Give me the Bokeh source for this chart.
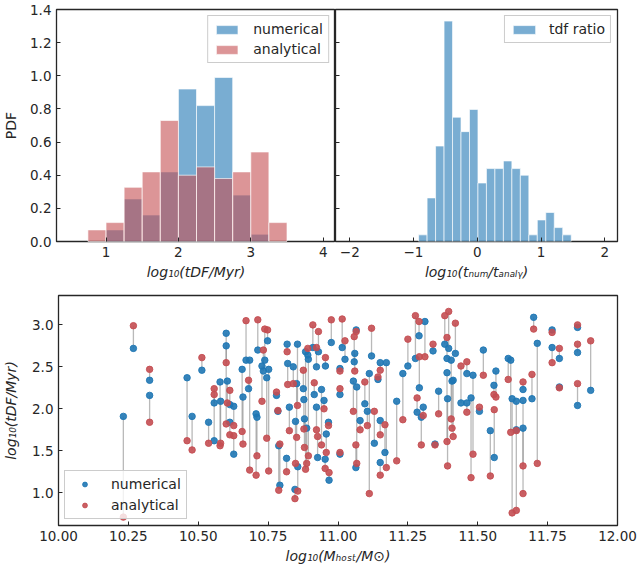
from bokeh.plotting import figure
from bokeh.layouts import column, row
from bokeh.models import (ColumnDataSource, Legend, LegendItem, FixedTicker,
                          Range1d, NumeralTickFormatter, CustomJSTickFormatter)
from bokeh.embed import file_html
from bokeh.resources import INLINE

# ---------------- data ----------------
tdf_edges = [0.75, 1.00, 1.25, 1.50, 1.75, 2.00, 2.25, 2.50, 2.75, 3.00, 3.25, 3.50]
tdf_num_pdf = [0.000, 0.070, 0.257, 0.160, 0.420, 0.920, 0.820, 0.990, 0.280, 0.044, 0.000]
tdf_ana_pdf = [0.070, 0.114, 0.327, 0.420, 0.730, 0.400, 0.450, 0.380, 0.420, 0.540, 0.114]

ratio_edges = [-0.920, -0.787, -0.654, -0.521, -0.388, -0.255, -0.122, 0.011, 0.144,
               0.277, 0.410, 0.543, 0.676, 0.809, 0.942, 1.075, 1.208, 1.341, 1.474]
ratio_pdf = [0.040, 0.263, 0.576, 1.330, 0.750, 0.663, 0.797, 0.353, 0.440,
             0.440, 0.486, 0.440, 0.400, 0.040, 0.130, 0.175, 0.084, 0.040]

host_mass = [10.232, 10.268, 10.326, 10.326, 10.460, 10.478, 10.513, 10.537, 10.557, 10.557,
             10.578, 10.580, 10.600, 10.600, 10.604, 10.613, 10.613, 10.627, 10.627, 10.657,
             10.660, 10.671, 10.680, 10.684, 10.707, 10.710, 10.713, 10.728, 10.733, 10.738,
             10.745, 10.748, 10.752, 10.780, 10.785, 10.788, 10.792, 10.818, 10.820, 10.826,
             10.816, 10.840, 10.855, 10.852, 10.848, 10.846, 10.856, 10.876, 10.878, 10.880,
             10.888, 10.884, 10.892, 10.894, 10.910, 10.915, 10.930, 10.923, 10.923, 10.927,
             10.941, 10.955, 10.950, 10.966, 10.958, 10.954, 10.968, 10.976, 11.007, 11.007,
             11.007, 11.015, 11.025, 11.058, 11.065, 11.055, 11.060, 11.067, 11.064, 11.079,
             11.096, 11.105, 11.112, 11.120, 11.130, 11.143, 11.151, 11.151, 11.151, 11.168,
             11.173, 11.210, 11.232, 11.250, 11.277, 11.290, 11.291, 11.283, 11.305, 11.298,
             11.311, 11.340, 11.347, 11.360, 11.382, 11.390, 11.390, 11.392, 11.396, 11.405,
             11.408, 11.412, 11.420, 11.440, 11.461, 11.461, 11.476, 11.483, 11.506, 11.520,
             11.545, 11.558, 11.559, 11.565, 11.609, 11.618, 11.623, 11.638, 11.638, 11.662,
             11.662, 11.662, 11.694, 11.700, 11.713, 11.766, 11.766, 11.792, 11.792, 11.857,
             11.857, 11.857, 11.904]
t_num = [1.91, 2.72, 2.34, 2.16, 2.37, 1.91, 2.46, 1.84, 2.07, 1.62,
         2.32, 2.09, 2.90, 2.75, 2.33, 2.05, 1.84, 2.03, 1.46, 2.47,
         2.14, 2.58, 2.24, 2.58, 1.94, 1.90, 2.70, 2.51, 2.45, 2.58,
         2.37, 2.81, 2.47, 2.16, 1.97, 1.56, 1.09, 2.77, 2.54, 2.02,
         1.41, 2.50, 2.77, 2.30, 1.85, 1.04, 1.31, 2.24, 2.11, 1.88,
         1.77, 2.68, 2.64, 2.59, 2.73, 2.17, 2.68, 2.50, 2.02, 1.42,
         2.23, 2.51, 2.10, 1.84, 1.70, 1.40, 1.15, 2.79, 2.48, 2.17,
         1.46, 2.73, 2.59, 2.56, 2.94, 2.33, 2.66, 2.26, 1.30, 1.86,
         2.06, 1.97, 2.42, 2.63, 1.59, 2.35, 2.55, 1.86, 1.36, 1.48,
         2.55, 2.09, 2.42, 2.51, 2.60, 2.87, 2.25, 1.96, 2.02, 1.90,
         3.04, 2.69, 1.58, 2.21, 2.77, 2.60, 2.43, 2.12, 2.72, 2.58,
         2.33, 2.34, 2.66, 2.07, 2.42, 2.07, 2.13, 2.40, 1.97, 2.70,
         1.74, 2.28, 1.42, 2.45, 2.60, 2.58, 2.12, 2.09, 1.75, 2.23,
         2.10, 1.77, 2.12, 3.09, 2.78, 2.73, 2.94, 2.60, 2.26, 2.97,
         2.67, 2.04, 2.22]
t_ana = [0.71, 2.99, 2.47, 1.84, 1.62, 1.51, 2.61, 1.59, 2.24, 2.17,
         1.56, 1.59, 2.55, 1.82, 2.07, 2.22, 1.69, 1.80, 1.68, 1.73,
         1.58, 3.05, 2.34, 1.27, 1.21, 1.44, 3.06, 2.09, 2.70, 2.95,
         1.65, 2.94, 1.26, 2.20, 1.98, 1.03, 1.58, 2.68, 2.29, 1.74,
         1.25, 2.30, 2.04, 1.66, 1.35, 0.93, 1.02, 2.46, 1.76, 1.54,
         1.35, 1.28, 2.72, 1.44, 3.00, 2.31, 2.92, 2.73, 1.75, 1.67,
         1.57, 2.61, 2.00, 1.80, 1.48, 1.29, 1.24, 3.06, 2.45, 2.24,
         1.48, 3.07, 2.81, 2.86, 2.92, 1.97, 2.45, 1.35, 1.57, 1.75,
         2.32, 1.80, 0.99, 2.96, 1.97, 2.38, 2.46, 1.69, 1.21, 1.81,
         1.30, 1.38, 1.87, 2.83, 3.11, 3.04, 2.62, 2.13, 1.92, 1.57,
         2.62, 2.77, 1.57, 1.94, 3.11, 2.85, 1.61, 1.32, 3.16, 1.88,
         1.77, 1.67, 3.02, 2.51, 2.56, 1.96, 1.18, 1.46, 2.02, 2.40,
         1.20, 2.17, 1.99, 2.14, 2.35, 1.72, 0.76, 0.79, 1.74, 2.32,
         0.99, 1.32, 2.41, 2.95, 1.35, 2.55, 2.91, 2.72, 2.25, 3.00,
         2.77, 2.30, 2.81]

tdf_ticks = [1, 2, 3, 4]
ratio_ticks = [-2, -1, 0, 1, 2]
pdf_ticks = [0.0, 0.2, 0.4, 0.6, 0.8, 1.0, 1.2, 1.4]
mass_ticks = [10.00, 10.25, 10.50, 10.75, 11.00, 11.25, 11.50, 11.75, 12.00]
t_ticks = [1.0, 1.5, 2.0, 2.5, 3.0]

BLUE = "#1f77b4"
RED = "#c44e52"
INK = "#262626"
FONT = "DejaVu Sans"


def style(p):
    p.xgrid.visible = False
    p.ygrid.visible = False
    p.outline_line_color = INK
    p.outline_line_width = 1.3
    p.outline_line_alpha = 1.0
    p.background_fill_color = "white"
    p.border_fill_color = "white"
    for ax in p.axis:
        ax.axis_line_color = None
        ax.major_tick_in = 4
        ax.major_tick_out = 0
        ax.major_tick_line_color = INK
        ax.major_tick_line_width = 1
        ax.minor_tick_line_color = None
        ax.major_label_text_font = FONT
        ax.major_label_text_font_size = "13.5px"
        ax.major_label_text_color = INK
        ax.major_label_standoff = 5
        ax.axis_label_text_font = FONT
        ax.axis_label_text_font_size = "14px"
        ax.axis_label_text_color = INK
        ax.axis_label_text_font_style = "normal"
        ax.axis_label_standoff = 4


def style_legend(lg):
    lg.label_text_font = FONT
    lg.label_text_font_size = "14px"
    lg.label_text_color = INK
    lg.border_line_color = "#cccccc"
    lg.border_line_width = 1
    lg.border_line_alpha = 1.0
    lg.background_fill_color = "white"
    lg.background_fill_alpha = 0.8


# ---------------- top-left: t_DF histograms ----------------
p1 = figure(width=335, height=290, x_range=Range1d(0.316, 4.17), y_range=Range1d(0, 1.4),
            min_border_left=53, min_border_right=0, min_border_top=9, min_border_bottom=49,
            output_backend="svg", toolbar_location=None)
src_num = ColumnDataSource(dict(left=tdf_edges[:-1], right=tdf_edges[1:], top=tdf_num_pdf))
src_ana = ColumnDataSource(dict(left=tdf_edges[:-1], right=tdf_edges[1:], top=tdf_ana_pdf))
r_num = p1.quad(left="left", right="right", top="top", bottom=0, source=src_num,
                fill_color=BLUE, fill_alpha=0.6, line_color="white", line_width=0.8, line_alpha=0.8)
r_ana = p1.quad(left="left", right="right", top="top", bottom=0, source=src_ana,
                fill_color=RED, fill_alpha=0.6, line_color="white", line_width=0.8, line_alpha=0.8)
style(p1)
p1.xaxis.ticker = FixedTicker(ticks=tdf_ticks)
p1.yaxis.ticker = FixedTicker(ticks=pdf_ticks)
p1.yaxis.formatter = NumeralTickFormatter(format="0.0")
p1.xaxis.axis_label = "log₁₀(tDF/Myr)"
p1.xaxis.axis_label_text_font_style = "italic"
p1.yaxis.axis_label = "PDF"
p1.yaxis.axis_label_standoff = 8
lg1 = Legend(items=[LegendItem(label="numerical", renderers=[r_num]),
                    LegendItem(label="analytical", renderers=[r_ana])],
             location="top_right", margin=6, padding=5, spacing=4,
             glyph_width=27, glyph_height=11, label_standoff=13)
style_legend(lg1)
p1.add_layout(lg1)

# ---------------- top-right: ratio histogram ----------------
p2 = figure(width=302, height=290, x_range=Range1d(-2.224, 2.2), y_range=p1.y_range,
            min_border_left=0, min_border_right=20, min_border_top=9, min_border_bottom=49,
            output_backend="svg", toolbar_location=None)
src_ratio = ColumnDataSource(dict(left=ratio_edges[:-1], right=ratio_edges[1:], top=ratio_pdf))
r_ratio = p2.quad(left="left", right="right", top="top", bottom=0, source=src_ratio,
                  fill_color=BLUE, fill_alpha=0.6, line_color="white", line_width=0.8, line_alpha=0.8)
style(p2)
p2.xaxis.ticker = FixedTicker(ticks=ratio_ticks)
p2.xaxis.formatter = CustomJSTickFormatter(
    code="return tick < 0 ? '\u2212' + Math.abs(tick) : String(tick);")
p2.yaxis.ticker = FixedTicker(ticks=pdf_ticks)
p2.yaxis.formatter = CustomJSTickFormatter(code="return '';")
p2.yaxis.major_label_standoff = 0
p2.xaxis.axis_label = "log₁₀(tₙᵤₘ/tₐₙₐₗᵧ)"
p2.xaxis.axis_label_text_font_style = "italic"
lg2 = Legend(items=[LegendItem(label="tdf ratio", renderers=[r_ratio])],
             location="top_right", margin=6, padding=5, spacing=4,
             glyph_width=28, glyph_height=11, label_standoff=11)
style_legend(lg2)
p2.add_layout(lg2)

# ---------------- bottom: scatter ----------------
p3 = figure(width=637, height=276, x_range=Range1d(10.0, 12.0), y_range=Range1d(0.61, 3.35),
            min_border_left=53, min_border_right=20, min_border_top=5, min_border_bottom=41,
            output_backend="svg", toolbar_location=None)
src = ColumnDataSource(dict(x=host_mass, num=t_num, ana=t_ana))
p3.segment(x0="x", y0="num", x1="x", y1="ana", source=src,
           line_color="#7f7f7f", line_alpha=0.55, line_width=1.3)
r_b = p3.scatter("x", "num", source=src, size=6.5, fill_color=BLUE, line_color=BLUE,
                 fill_alpha=0.9, line_alpha=0.9)
r_r = p3.scatter("x", "ana", source=src, size=6.5, fill_color=RED, line_color=RED,
                 fill_alpha=0.9, line_alpha=0.9)
style(p3)
p3.xaxis.ticker = FixedTicker(ticks=mass_ticks)
p3.xaxis.formatter = NumeralTickFormatter(format="0.00")
p3.yaxis.ticker = FixedTicker(ticks=t_ticks)
p3.yaxis.formatter = NumeralTickFormatter(format="0.0")
p3.xaxis.axis_label = "log₁₀(Mₕₒₛₜ/M⊙)"
p3.xaxis.axis_label_text_font_style = "italic"
p3.yaxis.axis_label = "log₁₀(tDF/Myr)"
p3.yaxis.axis_label_text_font_style = "italic"
p3.yaxis.axis_label_standoff = 10
lg3 = Legend(items=[LegendItem(label="numerical", renderers=[r_b]),
                    LegendItem(label="analytical", renderers=[r_r])],
             location="bottom_left", margin=6, padding=5, spacing=5,
             glyph_width=29, glyph_height=12, label_standoff=12)
style_legend(lg3)
p3.add_layout(lg3)

layout = column(row(p1, p2), p3)
open("out.html", "w").write(file_html(layout, INLINE))
